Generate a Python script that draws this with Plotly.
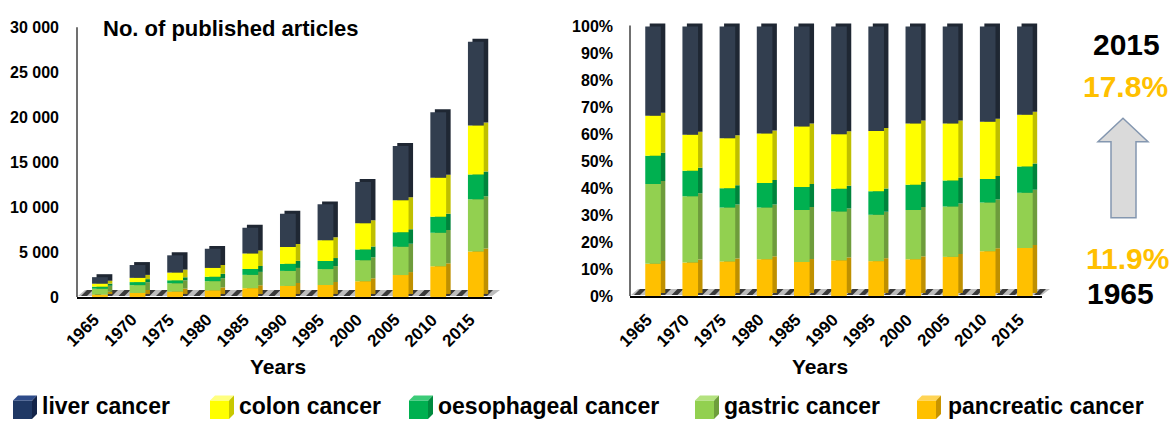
import numpy as np
import plotly.graph_objects as go

# ---- data: published articles per 5-year step ----
years = ["1965", "1970", "1975", "1980", "1985", "1990", "1995", "2000", "2005", "2010", "2015"]
pancreatic = [262, 440, 593, 728, 970, 1221, 1329, 1741, 2436, 3411, 5055]
gastric = [651, 873, 926, 1027, 1486, 1674, 1772, 2342, 3142, 3720, 5822]
oesophageal = [231, 337, 333, 487, 655, 786, 896, 1203, 1613, 1788, 2755]
colon = [326, 472, 857, 984, 1733, 1869, 2307, 2906, 3562, 4357, 5453]
liver = [730, 1427, 1921, 2124, 2857, 3700, 3996, 4608, 6048, 7275, 9315]

y_ticks = [0, 5000, 10000, 15000, 20000, 25000, 30000]
y_tick_labels = ["0", "5 000", "10 000", "15 000", "20 000", "25 000", "30 000"]
pct_ticks = list(range(0, 101, 10))
pct_tick_labels = [f"{v}%" for v in pct_ticks]

# bottom-to-top stacking order
series = [
    ("pancreatic cancer", pancreatic, "#FFC000", "#BF9000"),
    ("gastric cancer", gastric, "#92D050", "#6E9C3C"),
    ("oesophageal cancer", oesophageal, "#00B050", "#00843C"),
    ("colon cancer", colon, "#FFFF00", "#BFBF00"),
    ("liver cancer", liver, "#323E4F", "#1F2733"),
]
legend_colors = {
    "liver cancer": ("#1F3864", "#2F4C8A", "#132449"),
    "colon cancer": ("#FFFF00", "#FFFF80", "#C8C800"),
    "oesophageal cancer": ("#00B050", "#3CCB78", "#008A3E"),
    "gastric cancer": ("#92D050", "#B4E27F", "#6E9E3C"),
    "pancreatic cancer": ("#FFC000", "#FFD455", "#C89400"),
}

W, H = 1172, 428
FONT = "Arial, Liberation Sans, sans-serif"


def px(x):
    return x / W


def py(y):
    return 1 - y / H


counts = np.array([s[1] for s in series], dtype=float)
totals = counts.sum(axis=0)
shares = counts / totals * 100

BAR_W = 0.42     # width of the front face (category units)
SIDE_DX = 0.12   # depth of the extruded side face

fig = go.Figure()


def add_stack(values, xa, ya, lift):
    bases = np.vstack([np.zeros(values.shape[1]), np.cumsum(values, axis=0)[:-1]])
    # darker extruded faces first, then the front faces on top
    for (name, _, main, dark), v, b in zip(series, values, bases):
        fig.add_trace(go.Bar(
            x=years, y=v, base=b + lift, width=BAR_W, offset=-BAR_W / 2 + SIDE_DX,
            marker=dict(color=dark, line=dict(width=0)), xaxis=xa, yaxis=ya,
            showlegend=False, hoverinfo="skip"))
    for (name, _, main, dark), v, b in zip(series, values, bases):
        fig.add_trace(go.Bar(
            x=years, y=v, base=b, width=BAR_W, offset=-BAR_W / 2, name=name,
            marker=dict(color=main, line=dict(width=0)), xaxis=xa, yaxis=ya,
            showlegend=False))


add_stack(counts, "x", "y", 330)
add_stack(shares, "x2", "y2", 1.1)

tick_font = dict(family=FONT, size=16, color="#000000", weight=700)

fig.update_layout(
    width=W, height=H,
    margin=dict(l=0, r=0, t=0, b=0),
    paper_bgcolor="white", plot_bgcolor="rgba(0,0,0,0)",
    barmode="overlay",
    font=dict(family=FONT),
    xaxis=dict(domain=[px(77), px(492)], anchor="y", type="category",
               range=[-0.61, 10.43], showline=True, linecolor="#000000", linewidth=1.5,
               showgrid=False, ticks="", showticklabels=False),
    yaxis=dict(domain=[py(303), py(20)], anchor="x", range=[0, 30761],
               tickvals=y_ticks, ticktext=y_tick_labels, showgrid=False, zeroline=False,
               showline=False, ticks="", tickfont=tick_font, ticklabelstandoff=17),
    xaxis2=dict(domain=[px(630), px(1042)], anchor="y2", type="category",
                range=[-0.62, 10.46], showline=True, linecolor="#000000", linewidth=1.5,
                showgrid=False, ticks="", showticklabels=False),
    yaxis2=dict(domain=[py(302), py(18)], anchor="x2", range=[0, 102.9],
                tickvals=pct_ticks, ticktext=pct_tick_labels, showgrid=False, zeroline=False,
                showline=False, ticks="", tickfont=tick_font, ticklabelstandoff=16),
)

shapes = []
# vertical axis lines and hatched floor under each set of bars
for x0, x1, yb, yt in [(77, 492, 303, 27), (630, 1042, 302, 25)]:
    shapes.append(dict(type="line", xref="paper", yref="paper",
                       x0=px(x0), x1=px(x0), y0=py(yb), y1=py(yt),
                       line=dict(color="#404040", width=1.5)))
    shapes.append(dict(
        type="path", xref="paper", yref="paper", layer="below",
        path=f"M {px(x0 + 1)},{py(yb - 1)} L {px(x0 + 8)},{py(yb - 7)} L {px(x1 + 8)},{py(yb - 7)} "
             f"L {px(x1)},{py(yb - 1)} Z",
        fillcolor="#BDBDBD", line=dict(width=0)))
    for sx in np.arange(x0 + 4, x1 - 2, 12.5):
        shapes.append(dict(
            type="path", xref="paper", yref="paper", layer="below",
            path=f"M {px(sx)},{py(yb - 1)} L {px(sx + 6)},{py(yb - 7)} L {px(sx + 12)},{py(yb - 7)} "
                 f"L {px(sx + 6)},{py(yb - 1)} Z",
            fillcolor="#3A3A3A", line=dict(width=0)))

# upward arrow between the two shares
ax = [(1123, 120), (1148, 144), (1136, 144), (1136, 222), (1111, 222), (1111, 144), (1098, 144)]
shapes.append(dict(
    type="path", xref="paper", yref="paper",
    path="M " + " L ".join(f"{px(a)},{py(b)}" for a, b in ax) + " Z",
    fillcolor="#DADADA", line=dict(color="#8497B0", width=1.5)))

# legend cubes
legend_items = [("liver cancer", 13, 40), ("colon cancer", 210, 237),
                ("oesophageal cancer", 409, 436), ("gastric cancer", 695, 722),
                ("pancreatic cancer", 917, 946)]
annotations = []
for name, ix, tx in legend_items:
    front, top, side = legend_colors[name]
    s, d, y0 = 19, 5, 409
    shapes.append(dict(type="rect", xref="paper", yref="paper",
                       x0=px(ix), x1=px(ix + s), y0=py(y0 + s), y1=py(y0),
                       fillcolor=front, line=dict(width=0)))
    shapes.append(dict(type="path", xref="paper", yref="paper",
                       path=f"M {px(ix)},{py(y0)} L {px(ix + d)},{py(y0 - d)} L {px(ix + s + d)},{py(y0 - d)} "
                            f"L {px(ix + s)},{py(y0)} Z",
                       fillcolor=top, line=dict(width=0)))
    shapes.append(dict(type="path", xref="paper", yref="paper",
                       path=f"M {px(ix + s)},{py(y0)} L {px(ix + s + d)},{py(y0 - d)} L {px(ix + s + d)},{py(y0 + s - d)} "
                            f"L {px(ix + s)},{py(y0 + s)} Z",
                       fillcolor=side, line=dict(width=0)))
    annotations.append(dict(x=px(tx), y=py(415), xref="paper", yref="paper", text=name,
                            showarrow=False, xanchor="left", yanchor="middle",
                            font=dict(family=FONT, size=23, color="#000000", weight=700)))

bold = lambda size, color="#000000": dict(family=FONT, size=size, color=color, weight=700)

# rotated year labels under both category axes (category index as position)
for xref in ["x", "x2"]:
    for i, yr in enumerate(years):
        annotations.append(dict(x=i, xref=xref, y=py(314), yref="paper", text=yr,
                                textangle=-45, xanchor="right", yanchor="top", xshift=6,
                                font=bold(17)))

annotations += [
    dict(x=px(101), y=py(28), text="No. of published articles", xanchor="left",
         yanchor="middle", font=bold(22)),
    dict(x=px(278), y=py(374), text="Years", xanchor="center", yanchor="middle", font=bold(21)),
    dict(x=px(820), y=py(374), text="Years", xanchor="center", yanchor="middle", font=bold(21)),
    dict(x=px(1126), y=py(45), text=years[-1], xanchor="center", yanchor="middle", font=bold(30)),
    dict(x=px(1125), y=py(88), text=f"{shares[0, -1]:.1f}%", xanchor="center", yanchor="middle",
         font=bold(30, "#FFC000")),
    dict(x=px(1127), y=py(264), text=f"{shares[0, 0]:.1f}%", xanchor="center", yanchor="middle",
         font=bold(30, "#FFC000")),
    dict(x=px(1120), y=py(300), text=years[0], xanchor="center", yanchor="middle", font=bold(30)),
]
for a in annotations:
    a.setdefault("xref", "paper")
    a.setdefault("yref", "paper")
    a.setdefault("showarrow", False)

fig.update_layout(shapes=shapes, annotations=annotations)

fig.write_html("out.html")
